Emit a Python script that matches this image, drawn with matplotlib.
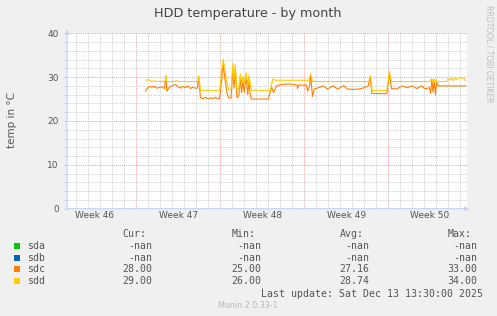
import matplotlib
matplotlib.use('Agg')
import matplotlib.pyplot as plt
from matplotlib.ticker import MultipleLocator

# time axis in days, 0 = monday of week 47
week_labels = ['Week 46', 'Week 47', 'Week 48', 'Week 49', 'Week 50']
week_starts = [-7, 0, 7, 14, 21]

sdc_t = [0.78, 0.95, 1.1, 1.3, 1.5, 1.7, 1.9, 2.1, 2.35, 2.47, 2.55, 2.7, 2.9, 3.1, 3.3, 3.5,
	3.7, 3.9, 4.1, 4.3, 4.5, 4.7, 4.9, 5.1, 5.2, 5.35, 5.6, 5.8, 6.0, 6.2, 6.4, 6.6, 6.8, 6.95,
	7.1, 7.25, 7.4, 7.56, 7.7, 7.9, 8.06, 8.15, 8.25, 8.4, 8.55, 8.67, 8.78, 8.9, 9.0, 9.17,
	9.3, 9.4, 9.5, 9.6, 11.0, 11.3, 11.45, 11.7, 12.0, 12.5, 13.0, 13.4, 13.45, 13.55, 14.2,
	14.3, 14.45, 14.55, 14.7, 14.85, 15.2, 15.6, 15.95, 16.4, 16.8, 17.3, 17.6, 18.1, 18.6,
	19.0, 19.35, 19.5, 19.65, 20.8, 20.9, 21.1, 21.3, 21.7, 22.2, 22.6, 23.0, 23.4, 23.8,
	24.1, 24.45, 24.55, 24.65, 24.75, 24.85, 24.95, 25.05, 25.2, 27.45]
sdc = [26.8, 27.6, 27.9, 27.7, 27.9, 27.5, 27.6, 27.8, 27.4, 30.3, 26.8, 27.5, 27.9, 28.2, 28.3, 27.8,
	27.5, 27.9, 27.6, 28.0, 27.4, 27.7, 27.5, 27.5, 30.2, 25.3, 25.1, 25.4, 25.0, 25.3, 25.1, 25.4, 25.0, 25.2,
	29.0, 32.8, 29.5, 26.4, 25.3, 25.2, 32.2, 27.5, 31.8, 25.3, 25.8, 29.8, 26.5, 29.2, 26.5, 30.0,
	26.0, 29.2, 26.0, 25.0, 25.0, 27.7, 26.5, 28.0, 28.3, 28.4, 28.4, 28.2, 27.4, 28.2, 28.2,
	26.8, 28.0, 30.2, 25.6, 27.3, 27.6, 28.0, 27.3, 28.0, 27.3, 28.1, 27.3, 27.2, 27.3,
	27.6, 28.0, 30.1, 26.3, 26.2, 26.3, 30.6, 27.4, 27.3, 28.0, 27.6, 28.0, 27.4, 28.0,
	27.3, 27.6, 26.3, 29.5, 26.6, 29.3, 26.0, 28.8, 28.0, 28.0]

sdd_t = [0.78, 1.0, 1.2, 2.4, 2.47, 2.55, 3.2, 3.3, 3.5, 5.15, 5.22, 5.35, 6.95, 7.1, 7.25, 7.4,
	7.56, 7.7, 7.9, 8.06, 8.15, 8.25, 8.4, 8.55, 8.67, 8.78, 8.9, 9.0, 9.17, 9.3, 9.4, 9.5, 9.6,
	11.17, 11.4, 11.6, 14.4, 14.55, 14.7, 19.4, 19.55, 19.67, 20.9, 21.1, 21.3, 24.5, 24.6, 24.7,
	24.8, 24.9, 25.0, 25.1, 25.9, 26.0, 26.15, 26.3, 26.45, 26.6, 26.75, 26.9, 27.1, 27.3, 27.45]
sdd = [29.3, 29.4, 29.1, 29.0, 30.3, 29.0, 29.0, 29.2, 29.0, 29.0, 30.3, 27.0, 27.0, 31.0, 34.1, 31.5,
	28.7, 27.2, 27.1, 33.2, 29.5, 32.9, 27.1, 27.4, 30.8, 28.5, 30.2, 28.5, 31.0, 28.0, 30.5, 28.7, 27.0,
	27.0, 29.6, 29.3, 29.3, 30.8, 29.0, 29.0, 30.3, 27.0, 27.0, 31.3, 29.0, 29.0, 29.6, 28.9,
	29.6, 29.0, 29.5, 29.0, 29.0, 29.6, 29.3, 29.8, 29.2, 29.8, 29.4, 29.9, 29.8, 29.8, 29.2]

names = ['sda', 'sdb', 'sdc', 'sdd']
colours = ['#00CC00', '#0066B3', '#FF8000', '#FFCC00']
cur = ['-nan', '-nan', '28.00', '29.00']
mins = ['-nan', '-nan', '25.00', '26.00']
avgs = ['-nan', '-nan', '27.16', '28.74']
maxs = ['-nan', '-nan', '33.00', '34.00']

W, H = 497, 316
BACK = '#F0F0F0'
AXIS = '#C8CEF2'
FONT = '#555555'

fig = plt.figure(figsize=(W / 100, H / 100), dpi=100, facecolor=BACK)
left, right, top, bottom = 67, 466.7, 33.3, 208.7
ax = fig.add_axes([left / W, 1 - bottom / H, (right - left) / W, (bottom - top) / H])
ax.set_facecolor('white')
for s in ax.spines.values():
	s.set_visible(False)

ax.set_xticks(week_starts)
ax.set_xticklabels([])
ax.xaxis.set_minor_locator(MultipleLocator(1))
ax.yaxis.set_major_locator(MultipleLocator(10))
ax.yaxis.set_minor_locator(MultipleLocator(2))
# limits after the ticks, set_xticks would widen them
ax.set_xlim(-5.78, 27.56)
ax.set_ylim(0, 40)
ax.tick_params(which='both', length=2, width=0.7, color=AXIS, labelsize=6.5, labelcolor=FONT, pad=4)
ax.tick_params(axis='x', which='both', length=0)

ax.grid(which='minor', color='#CFCFCF', linestyle=(0, (1, 1)), linewidth=0.7)
ax.grid(which='major', color='#F0A0A0', linestyle=(0, (1, 1)), linewidth=0.7)
ax.set_axisbelow(True)

for i, lab in enumerate(week_labels):
	ax.text(week_starts[i] + 3.5, -0.04, lab, transform=ax.get_xaxis_transform(),
		ha='center', va='center', fontsize=6.5, color=FONT)

ax.plot(sdc_t, sdc, color=colours[2], linewidth=0.8, zorder=3)
ax.plot(sdd_t, sdd, color=colours[3], linewidth=0.8, zorder=4)

# axes with arrows like rrdtool
ax.annotate('', xy=(1.013, 0), xytext=(-0.008, 0), xycoords='axes fraction',
	arrowprops=dict(arrowstyle='-|>', color=AXIS, lw=0.8, mutation_scale=6), annotation_clip=False)
ax.annotate('', xy=(0, 1.036), xytext=(0, -0.012), xycoords='axes fraction',
	arrowprops=dict(arrowstyle='-|>', color=AXIS, lw=0.8, mutation_scale=6), annotation_clip=False)

fig.text(248 / W, 1 - 13 / H, 'HDD temperature - by month', ha='center', va='center',
	fontsize=9.2, color='#444444')
fig.text(12 / W, 1 - 120 / H, 'temp in °C', rotation=90, ha='center', va='center',
	fontsize=7.5, color=FONT)
fig.text(489 / W, 1 - 5 / H, 'RRDTOOL / TOBI OETIKER', rotation=270, ha='center', va='top',
	fontsize=5.5, color='#BDBDBD')

# legend block
mono = 'DejaVu Sans Mono'
fs = 7.15
def ftext(x, y, s, **kw):
	fig.text(x / W, 1 - y / H, s, va='center', family=mono, fontsize=fs, color=FONT, **kw)

col_left = [122.7, 231.7, 340, 447.7]
col_right = [152.3, 261, 369.3, 477.3]
for j, h in enumerate(['Cur:', 'Min:', 'Avg:', 'Max:']):
	ftext(col_left[j], 234.3, h, ha='left')

rows = [245.7, 257.7, 269.3, 281]
for i in range(len(names)):
	y = rows[i]
	fig.patches.append(plt.Rectangle((14 / W, 1 - (y + 3) / H), 6 / W, 6 / H,
		transform=fig.transFigure, facecolor=colours[i], edgecolor='none'))
	ftext(26.7, y, names[i], ha='left')
	for j, vals in enumerate([cur, mins, avgs, maxs]):
		ftext(col_right[j], y, vals[i], ha='right')

ftext(483.3, 293.7, 'Last update: Sat Dec 13 13:30:00 2025', ha='right')
fig.text(248 / W, 1 - 305.3 / H, 'Munin 2.0.33-1', ha='center', va='center',
	fontsize=5.8, color='#B8B8B8')

fig.savefig('out.png', dpi=100, facecolor=BACK)
